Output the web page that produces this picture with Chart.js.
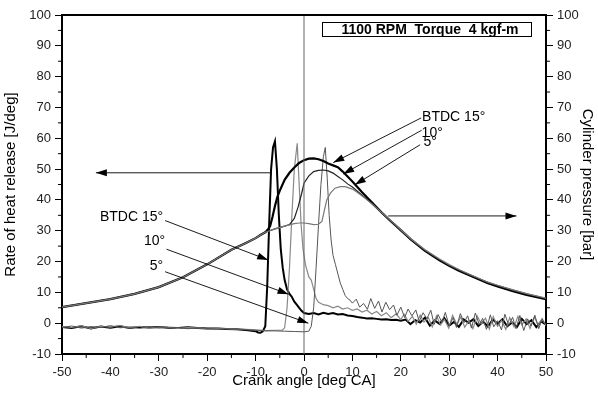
<!DOCTYPE html>
<html>
<head>
<meta charset="utf-8">
<script src="https://cdn.jsdelivr.net/npm/chart.js@4"></script>
<style>
  body { margin: 0; background: #fff; }
  #myChart { display: block; }
</style>
</head>
<body>
<canvas id="myChart" width="598" height="403"></canvas>
<script>
// crank angle + values

// compression part, shared by the three pressure curves
var compAngle = [-50, -45, -40, -35, -30, -25, -20, -15, -12, -10, -9, -8];
var compPress = [5.2, 6.5, 7.8, 9.5, 11.7, 14.9, 19.1, 23.8, 26.0, 27.6, 28.6, 29.5];

var p15Angle = [-7.5, -7, -6.5, -6, -5.5, -5, -4, -3, -2, -1, 0, 1, 2, 3, 4, 5, 6, 7, 8, 9, 10, 12, 14, 16, 18, 20, 22, 25, 28, 30, 32, 35, 38, 40, 43, 46, 50];
var p15Press = [30.3, 31.5, 34.5, 38, 41, 43, 46.5, 48.8, 50.5, 52, 52.9, 53.4, 53.5, 53.2, 52.6, 51.8, 51.2, 50.6, 49.2, 47.6, 46, 42.5, 39.2, 36, 33, 30.2, 27.3, 23.5, 20.4, 18.6, 17, 15, 13, 11.9, 10.5, 9.2, 7.8];

var p10Angle = [-6, -4, -3, -2, -1.2, -0.5, 0, 1, 2, 3, 4, 5, 6, 7, 8, 9, 10, 12, 14, 16, 18, 20, 22, 25, 28, 30, 32, 35, 38, 40, 43, 46, 50];
var p10Press = [30.6, 31.5, 32, 34, 37.8, 42, 45.4, 47.8, 49.2, 49.6, 49.7, 49.4, 48.7, 47.6, 46.5, 45.2, 44.2, 41.5, 38.8, 35.8, 33, 30, 27.2, 23.6, 20.6, 18.8, 17.2, 15.2, 13.2, 12.2, 10.8, 9.5, 8.0];

var p5Angle = [-6, -4, -2, -1, 0, 1, 2, 3, 3.7, 4.2, 4.7, 5.5, 6.4, 7.5, 8.5, 10, 11.2, 12, 14, 16, 18, 20, 22, 25, 28, 30, 32, 35, 38, 40, 43, 46, 50];
var p5Press = [30.6, 31.5, 32.3, 32.5, 32.5, 32.3, 32.0, 32.1, 33, 36.5, 40, 42.3, 43.8, 44.3, 44.3, 43.5, 42.2, 41.3, 38.8, 36, 33.2, 30.3, 27.5, 23.8, 20.8, 19, 17.4, 15.3, 13.3, 12.3, 10.9, 9.6, 8.1];

// heat release
var h15Angle = [-50, -48, -46, -44, -42, -40, -38, -36, -34, -32, -30, -28, -26, -24, -22, -20, -18, -16, -14, -12, -10, -9.5, -9, -8.5, -8, -7.6, -7.2, -6.8, -6.4, -6, -5.6, -5.2, -4.8, -4.4, -4, -3.5, -3, -2.5, -2, -1.5, -1, -0.5, 0, 1, 2, 3, 4, 5, 6, 7, 8, 9, 10, 11, 12, 13, 14, 15, 16, 17, 18, 19, 20, 21, 22, 23, 24, 25, 26, 27, 28, 29, 30, 31, 32, 33, 34, 35, 36, 37, 38, 39, 40, 41, 42, 43, 44, 45, 46, 47, 48, 49, 50];
var h15Rate = [-1.2, -1.6, -1.0, -1.7, -1.1, -1.5, -1.0, -1.6, -1.2, -1.4, -1.2, -1.5, -1.6, -1.3, -1.6, -1.7, -1.7, -1.9, -2.0, -2.2, -2.6, -3.0, -3.1, -2.6, -1, 12, 32, 50, 57, 59, 50, 35, 24, 18, 14, 11, 9.5, 8.5, 7, 6, 5, 4, 3.3, 3.0, 3.3, 2.8, 3.4, 3.0, 3.3, 2.8, 3.0, 2.5, 2.3, 2.0, 1.8, 1.5, 1.6, 1.4, 1.2, 1.3, 1.0, 1.1, 0.8, 1.2, -0.3, 1.0, 0.2, 1.8, -0.8, 0.9, -0.2, 1.6, -0.8, 0.4, -1.2, 1.2, 0.1, 1.3, -0.9, 0.5, -1.1, 1.2, -0.2, 1.3, -1.0, 0.2, -1.2, 1.4, -0.3, 1.0, -1.3, 0.6, -0.5];

var h10Angle = [-50, -48, -46, -44, -42, -40, -38, -36, -34, -32, -30, -28, -26, -24, -22, -20, -18, -16, -14, -12, -10, -8, -6, -4.5, -4, -3.5, -3, -2.5, -2, -1.4, -1, -0.6, -0.2, 0.3, 1, 1.5, 2, 2.5, 3, 4, 5, 6, 7, 8, 9, 10, 11, 12, 13, 14, 15, 16, 17, 18, 19, 20, 20.7, 21.5, 22.4, 23.2, 24, 24.8, 25.7, 26.5, 27.4, 28.2, 29, 29.9, 30.7, 31.6, 32.4, 33.2, 34.1, 34.9, 35.8, 36.6, 37.5, 38.3, 39.1, 40, 40.8, 41.7, 42.5, 43.4, 44.2, 45, 45.9, 46.7, 47.6, 48.4, 49.2, 50];
var h10Rate = [-1.0, -1.4, -0.8, -1.8, -1.0, -1.3, -0.7, -1.5, -1.0, -1.6, -1.3, -1.4, -1.7, -1.4, -1.5, -1.8, -1.6, -1.8, -2.0, -2.0, -2.2, -2.4, -2.3, -2.3, -1.5, 5, 18, 35, 50, 58.4, 45, 32, 24, 19, 15, 14, 11, 8, 6.8, 6.0, 5.7, 5.0, 5.5, 4.6, 5.0, 4.2, 4.6, 3.6, 4.2, 3.0, 3.8, 2.4, 3.4, 1.8, 3.0, 1.2, 2.9, 0.6, 2.2, -0.3, 2.6, 0.4, 1.8, -1.2, 2.4, -0.6, 1.2, -1.6, 2.5, -0.4, 2.0, -1.3, 0.8, -1.8, 2.3, -0.2, 1.6, -1.9, 2.1, -1.0, 0.9, -2.0, 1.8, -1.2, 2.2, -0.5, 1.4, -1.7, 1.9, -0.6, 1.5, -0.8];

var h5Angle = [-50, -48, -46, -44, -42, -40, -38, -36, -34, -32, -30, -28, -26, -24, -22, -20, -18, -16, -14, -12, -10, -8, -6, -4, -2, 0, 1, 1.5, 2, 2.5, 3, 3.5, 4, 4.4, 4.8, 5.2, 5.6, 6, 6.5, 7, 7.5, 8, 8.5, 9, 9.5, 10, 10.8, 11.5, 12.3, 13.1, 13.8, 14.6, 15.4, 16.1, 16.9, 17.7, 18.5, 19.2, 20, 20.8, 21.5, 22.3, 23.1, 23.8, 24.6, 25.4, 26.2, 26.9, 27.7, 28.5, 29.2, 30, 30.8, 31.5, 32.3, 33.1, 33.8, 34.6, 35.4, 36.2, 36.9, 37.7, 38.5, 39.2, 40, 40.8, 41.5, 42.3, 43.1, 43.8, 44.6, 45.4, 46.2, 46.9, 47.7, 48.5, 49.2, 50];
var h5Rate = [-1.5, -0.9, -1.6, -1.1, -1.4, -0.8, -1.5, -1.2, -1.7, -1.1, -1.5, -1.3, -1.4, -1.8, -1.5, -1.7, -1.9, -1.8, -2.0, -2.1, -2.3, -2.5, -2.5, -2.6, -2.7, -2.8, -2.6, -1, 5, 18, 32, 45, 54, 57, 47, 35, 27, 22, 19, 16, 13, 11, 9, 8, 7.5, 6.5, 7.8, 5.2, 6.4, 4.5, 8.0, 4.8, 7.2, 3.6, 6.8, 4.4, 5.9, 2.6, 5.2, 1.8, 4.6, 2.4, 4.3, 0.6, 3.4, 1.5, 4.2, -0.4, 2.8, 0.3, 3.5, -0.9, 1.8, -1.4, 3.1, 0.2, 2.4, -1.6, 3.3, -0.5, 1.6, -2.0, 2.7, -1.2, 0.8, -2.2, 2.9, -0.7, 1.9, -1.8, 2.5, -2.4, 1.4, -0.9, 2.6, -1.8, 1.3, -1.0];

var xTicks = [-50, -40, -30, -20, -10, 0, 10, 20, 30, 40, 50];
var yTicks = [-10, 0, 10, 20, 30, 40, 50, 60, 70, 80, 90, 100];

function pts(xs, ys){
  var out = [];
  for (var i = 0; i < xs.length; i++) out.push({x: xs[i], y: ys[i]});
  return out;
}

var fnt = '"Liberation Sans", Arial, sans-serif';

var extras = {
  id: 'extras',
  afterDraw: function(chart){
    var ctx = chart.ctx, xs = chart.scales.x, ys = chart.scales.y, a = chart.chartArea;
    function px(v){ return xs.getPixelForValue(v); }
    function py(v){ return ys.getPixelForValue(v); }

    ctx.save();
    // top frame line
    ctx.strokeStyle = '#000';
    ctx.lineWidth = 2;
    ctx.beginPath(); ctx.moveTo(a.left - 1, a.top); ctx.lineTo(a.right + 1, a.top); ctx.stroke();

    // minor ticks
    ctx.lineWidth = 1;
    ctx.beginPath();
    for (var v = -45; v < 50; v += 10){
      ctx.moveTo(px(v), a.bottom); ctx.lineTo(px(v), a.bottom + 4);
    }
    for (var w = -5; w < 100; w += 10){
      ctx.moveTo(a.left - 4, py(w)); ctx.lineTo(a.left, py(w));
      ctx.moveTo(a.right, py(w)); ctx.lineTo(a.right + 4, py(w));
    }
    ctx.stroke();

    // arrows
    var arrows = chart.options.plugins.extras.arrows;
    arrows.forEach(function(ar){
      var x1 = px(ar.from[0]), y1 = py(ar.from[1]), x2 = px(ar.to[0]), y2 = py(ar.to[1]);
      ctx.strokeStyle = '#000';
      ctx.fillStyle = '#000';
      ctx.lineWidth = 0.9;
      ctx.beginPath(); ctx.moveTo(x1, y1); ctx.lineTo(x2, y2); ctx.stroke();
      var ang = Math.atan2(y2 - y1, x2 - x1);
      ctx.beginPath();
      ctx.moveTo(x2, y2);
      ctx.lineTo(x2 - 11 * Math.cos(ang) + 3.5 * Math.sin(ang), y2 - 11 * Math.sin(ang) - 3.5 * Math.cos(ang));
      ctx.lineTo(x2 - 11 * Math.cos(ang) - 3.5 * Math.sin(ang), y2 - 11 * Math.sin(ang) + 3.5 * Math.cos(ang));
      ctx.closePath();
      ctx.fill();
    });

    // curve labels
    ctx.font = '14px ' + fnt;
    ctx.fillStyle = '#000';
    ctx.textBaseline = 'middle';
    chart.options.plugins.extras.labels.forEach(function(lb){
      ctx.textAlign = lb.align;
      ctx.fillText(lb.text, px(lb.at[0]), py(lb.at[1]));
    });

    // boxed title
    ctx.lineWidth = 1;
    ctx.strokeStyle = '#000';
    ctx.strokeRect(322.5, 22.5, 209, 14);
    ctx.font = 'bold 14px ' + fnt;
    ctx.textAlign = 'center';
    ctx.fillText('1100 RPM  Torque  4 kgf-m', 430, 30);
    ctx.restore();
  }
};

var tickFont = { family: fnt, size: 13 };
var titleFont = { family: fnt, size: 15 };

var data1 = {
  datasets: [
    { label: 'zero', data: [{x: 0, y: -10}, {x: 0, y: 100}], borderColor: '#666', borderWidth: 1, yAxisID: 'y' },
    { label: 'P 5', data: pts(compAngle.concat(p5Angle), compPress.concat(p5Press)), borderColor: '#777', borderWidth: 1.2, yAxisID: 'y2' },
    { label: 'P 10', data: pts(compAngle.concat(p10Angle), compPress.concat(p10Press)), borderColor: '#222', borderWidth: 1.2, yAxisID: 'y2' },
    { label: 'P 15', data: pts(compAngle.concat(p15Angle), compPress.concat(p15Press)), borderColor: '#000', borderWidth: 2.2, yAxisID: 'y2' },
    { label: 'HRR 5', data: pts(h5Angle, h5Rate), borderColor: '#555', borderWidth: 1, yAxisID: 'y' },
    { label: 'HRR 10', data: pts(h10Angle, h10Rate), borderColor: '#888', borderWidth: 1.2, yAxisID: 'y' },
    { label: 'HRR 15', data: pts(h15Angle, h15Rate), borderColor: '#000', borderWidth: 2, yAxisID: 'y' }
  ]
};

var config1 = {
  type: 'line',
  data: data1,
  options: {
    responsive: false,
    animation: false,
    layout: { padding: { top: 15, left: 0, right: 0, bottom: 0 } },
    elements: {
      point: { radius: 0 },
      line: { tension: 0, fill: false }
    },
    plugins: {
      legend: { display: false },
      tooltip: { enabled: false },
      extras: {
        arrows: [
          { from: [-7.0, 48.8], to: [-43, 48.8] },
          { from: [17.4, 34.8], to: [43.9, 34.8] },
          { from: [24.2, 66.6], to: [6.05, 52.1] },
          { from: [24.3, 62.6], to: [8.1, 48.4] },
          { from: [24.0, 57.9], to: [10.5, 44.9] },
          { from: [-28.7, 33.3], to: [-7.4, 20.5] },
          { from: [-28.4, 24.0], to: [-3.2, 9.4] },
          { from: [-28.7, 16.7], to: [0.9, 0.0] }
        ],
        labels: [
          { text: 'BTDC 15°', at: [24.4, 67.0], align: 'left' },
          { text: '10°', at: [24.3, 61.7], align: 'left' },
          { text: '5°', at: [24.7, 58.9], align: 'left' },
          { text: 'BTDC 15°', at: [-29.1, 34.3], align: 'right' },
          { text: '10°', at: [-28.7, 26.7], align: 'right' },
          { text: '5°', at: [-29.1, 18.6], align: 'right' }
        ]
      }
    },
    scales: {
      x: {
        type: 'linear',
        min: -50, max: 50,
        afterFit: function(s){ s.height = 49; },
        afterBuildTicks: function(s){ s.ticks = xTicks.map(function(v){ return {value: v}; }); },
        ticks: { font: tickFont, color: '#222', padding: 4, maxRotation: 0 },
        grid: { drawOnChartArea: false, tickLength: 7, color: '#000', tickWidth: 1 },
        border: { color: '#000', width: 2 },
        title: { display: true, text: 'Crank angle [deg CA]', font: titleFont, color: '#000', padding: { top: 4, bottom: 13 } }
      },
      y: {
        position: 'left',
        min: -10, max: 100,
        afterFit: function(s){ s.width = 62; },
        afterBuildTicks: function(s){ s.ticks = yTicks.map(function(v){ return {value: v}; }); },
        ticks: { font: tickFont, color: '#222', padding: 4 },
        grid: { drawOnChartArea: false, tickLength: 7, color: '#000', tickWidth: 1 },
        border: { color: '#000', width: 2 },
        title: { display: true, text: 'Rate of heat release [J/deg]', font: titleFont, color: '#000', padding: { top: 2, bottom: 4 } }
      },
      y2: {
        position: 'right',
        min: -10, max: 100,
        afterFit: function(s){ s.width = 52; },
        afterBuildTicks: function(s){ s.ticks = yTicks.map(function(v){ return {value: v}; }); },
        ticks: { font: tickFont, color: '#222', padding: 4 },
        grid: { drawOnChartArea: false, tickLength: 7, color: '#000', tickWidth: 1 },
        border: { color: '#000', width: 2 },
        title: { display: true, text: 'Cylinder pressure [bar]', font: titleFont, color: '#000', padding: { top: 2, bottom: 4 } }
      }
    }
  },
  plugins: [extras]
};

var g_principal = document.getElementById('myChart');
var myChart = new Chart(g_principal, config1);
</script>
</body>
</html>
